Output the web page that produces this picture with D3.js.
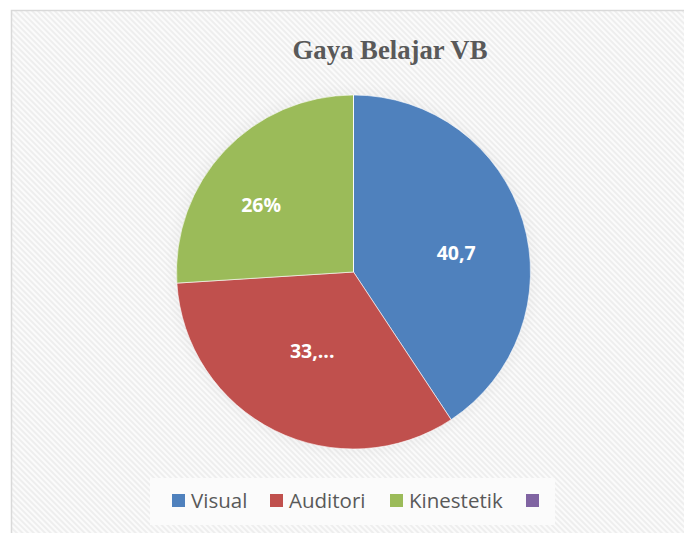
<!DOCTYPE html>
<html>
<head>
<meta charset="utf-8">
<script src="https://cdn.jsdelivr.net/npm/d3@7"></script>
<style>
  body { margin: 0; background: #fff; }
  svg { display: block; }
</style>
</head>
<body>
<div id="chart"></div>
<script>
const width = 684
const height = 533

// data
const categories = ["Visual", "Auditori", "Kinestetik", ""]
const values = [40.7, 33.3, 26, 0]
const labels = ["40,7", "33,...", "26%", ""]
const colors = ["#4f81bd", "#c0504d", "#9bbb59", "#8064a2"]

// label placement (excel "best fit" puts them a bit off the mid angle)
const labelNudge = [[1, 12], [6, -16], [-15, 6], [0, 0]]

const svg = d3.select("#chart")
    .append("svg")
    .attr("width", width)
    .attr("height", height)

// striped background
const defs = svg.append("defs")
const pat = defs.append("pattern")
    .attr("id", "stripes")
    .attr("width", 4)
    .attr("height", 4)
    .attr("patternUnits", "userSpaceOnUse")
    .attr("patternTransform", "rotate(45)")
pat.append("rect").attr("width", 4).attr("height", 4).attr("fill", "#fbfbfb")
pat.append("rect").attr("width", 4).attr("height", 2).attr("fill", "#eeeeee")

const shadow = defs.append("radialGradient").attr("id", "glow")
shadow.append("stop").attr("offset", "0.85").attr("stop-color", "#000").attr("stop-opacity", 0.06)
shadow.append("stop").attr("offset", "1").attr("stop-color", "#000").attr("stop-opacity", 0)

svg.append("rect")
    .attr("x", 11.5)
    .attr("y", 10.5)
    .attr("width", width)
    .attr("height", height)
    .attr("fill", "url(#stripes)")
    .attr("stroke", "#d9d9d9")
    .attr("stroke-width", 1.5)

// title
svg.append("text")
    .attr("x", 390)
    .attr("y", 59)
    .attr("text-anchor", "middle")
    .attr("font-family", "Liberation Serif, serif")
    .attr("font-weight", "bold")
    .attr("font-size", 28)
    .attr("textLength", 195)
    .attr("lengthAdjust", "spacingAndGlyphs")
    .attr("fill", "#595959")
    .text("Gaya Belajar VB")

// pie
const cx = 353.5, cy = 272, r = 177
const g = svg.append("g").attr("transform", `translate(${cx},${cy})`)

g.append("circle")
    .attr("r", r + 12)
    .attr("fill", "url(#glow)")

const pie = d3.pie().sort(null).value(d => d)
const arcs = pie(values)
const arc = d3.arc().innerRadius(0).outerRadius(r)
const labelArc = d3.arc().innerRadius(r * 0.6).outerRadius(r * 0.6)

g.selectAll("path.slice")
    .data(arcs)
    .join("path")
    .attr("class", "slice")
    .attr("d", arc)
    .attr("fill", (d, i) => colors[i])
    .attr("stroke", "#fff")
    .attr("stroke-width", 0.6)

g.selectAll("text.lbl")
    .data(arcs)
    .join("text")
    .attr("class", "lbl")
    .attr("transform", (d, i) => {
        const [x, y] = labelArc.centroid(d)
        return `translate(${x + labelNudge[i][0]},${y + labelNudge[i][1]})`
    })
    .attr("text-anchor", "middle")
    .attr("dy", "0.35em")
    .attr("font-family", "Open Sans, sans-serif")
    .attr("font-weight", "bold")
    .attr("font-size", 19.5)
    .attr("fill", "#fff")
    .text((d, i) => labels[i])

// legend
const legend = svg.append("g")
legend.append("rect")
    .attr("x", 150)
    .attr("y", 478)
    .attr("width", 405)
    .attr("height", 47)
    .attr("fill", "#fbfbfb")

const legendX = d3.scaleOrdinal()
    .domain(categories.map((c, i) => i))
    .range([172, 270, 390, 526])

const item = legend.selectAll("g.item")
    .data(categories)
    .join("g")
    .attr("class", "item")
    .attr("transform", (d, i) => `translate(${legendX(i)},494)`)

item.append("rect")
    .attr("width", 13)
    .attr("height", 13)
    .attr("fill", (d, i) => colors[i])

item.append("text")
    .attr("x", 19)
    .attr("y", 14)
    .attr("font-family", "Open Sans, sans-serif")
    .attr("font-size", 20.5)
    .attr("fill", "#595959")
    .text(d => d)
</script>
</body>
</html>
